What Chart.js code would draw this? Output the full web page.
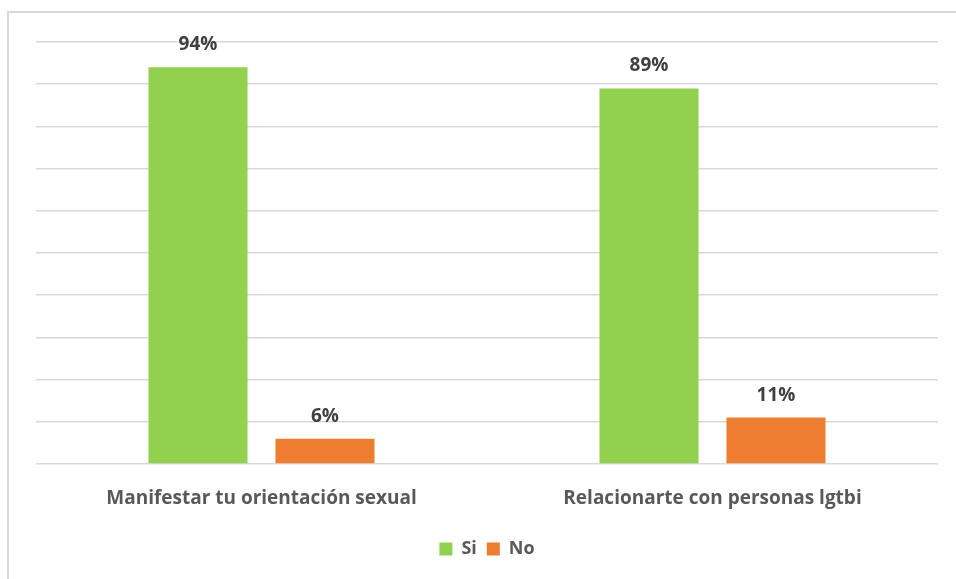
<!DOCTYPE html>
<html>
<head>
<meta charset="utf-8">
<script src="https://cdn.jsdelivr.net/npm/chart.js@4.4.0/dist/chart.umd.min.js"></script>
<style>
  html, body { margin: 0; padding: 0; background: #fff; overflow: hidden; }
  #frame { position: absolute; left: 7px; top: 11px; width: 1000px; height: 600px; border: 2px solid #d9d9d9; }
  #wrap { position: absolute; left: 0; top: 0; width: 956px; height: 579px; }
</style>
</head>
<body>
<div id="frame"></div>
<div id="wrap"><canvas id="chart"></canvas></div>
<script>
// chart data
const categories = ['Manifestar tu orientación sexual', 'Relacionarte con personas lgtbi'];
const siValues = [94, 89];
const noValues = [6, 11];

const FONT = '"Open Sans", sans-serif';

// draw the % labels above each bar
const valueLabels = {
  id: 'valueLabels',
  afterDatasetsDraw(chart) {
    const ctx = chart.ctx;
    ctx.save();
    ctx.font = 'bold 19px ' + FONT;
    ctx.fillStyle = '#404040';
    ctx.textAlign = 'center';
    ctx.textBaseline = 'alphabetic';
    chart.data.datasets.forEach((ds, i) => {
      chart.getDatasetMeta(i).data.forEach((bar, j) => {
        ctx.fillText(ds.data[j] + '%', bar.x, bar.y - 17);
      });
    });
    ctx.restore();
  }
};

new Chart(document.getElementById('chart'), {
  type: 'bar',
  data: {
    labels: categories,
    datasets: [
      { label: 'Si', data: siValues, backgroundColor: '#92d050' },
      { label: 'No', data: noValues, backgroundColor: '#ed7d31' }
    ]
  },
  options: {
    responsive: true,
    maintainAspectRatio: false,
    animation: false,
    categoryPercentage: 0.563,
    barPercentage: 0.78,
    layout: { padding: { left: 36, right: 18, top: 42, bottom: 11 } },
    scales: {
      x: {
        grid: { display: false },
        border: { display: false },
        ticks: {
          padding: 15,
          color: '#595959',
          font: { family: FONT, size: 19, weight: 'bold' }
        },
        afterFit(scale) { scale.height = 66; }
      },
      y: {
        min: 0,
        max: 100,
        ticks: { stepSize: 10, display: false },
        border: { display: false },
        grid: { color: '#d9d9d9', lineWidth: 1.5, drawTicks: false },
        afterFit(scale) { scale.width = 0; }
      }
    },
    plugins: {
      legend: {
        position: 'bottom',
        labels: {
          boxWidth: 13,
          boxHeight: 13,
          padding: 10,
          color: '#595959',
          font: { family: FONT, size: 18, weight: 'bold' }
        }
      },
      tooltip: { enabled: false }
    }
  },
  plugins: [valueLabels]
});
</script>
</body>
</html>
